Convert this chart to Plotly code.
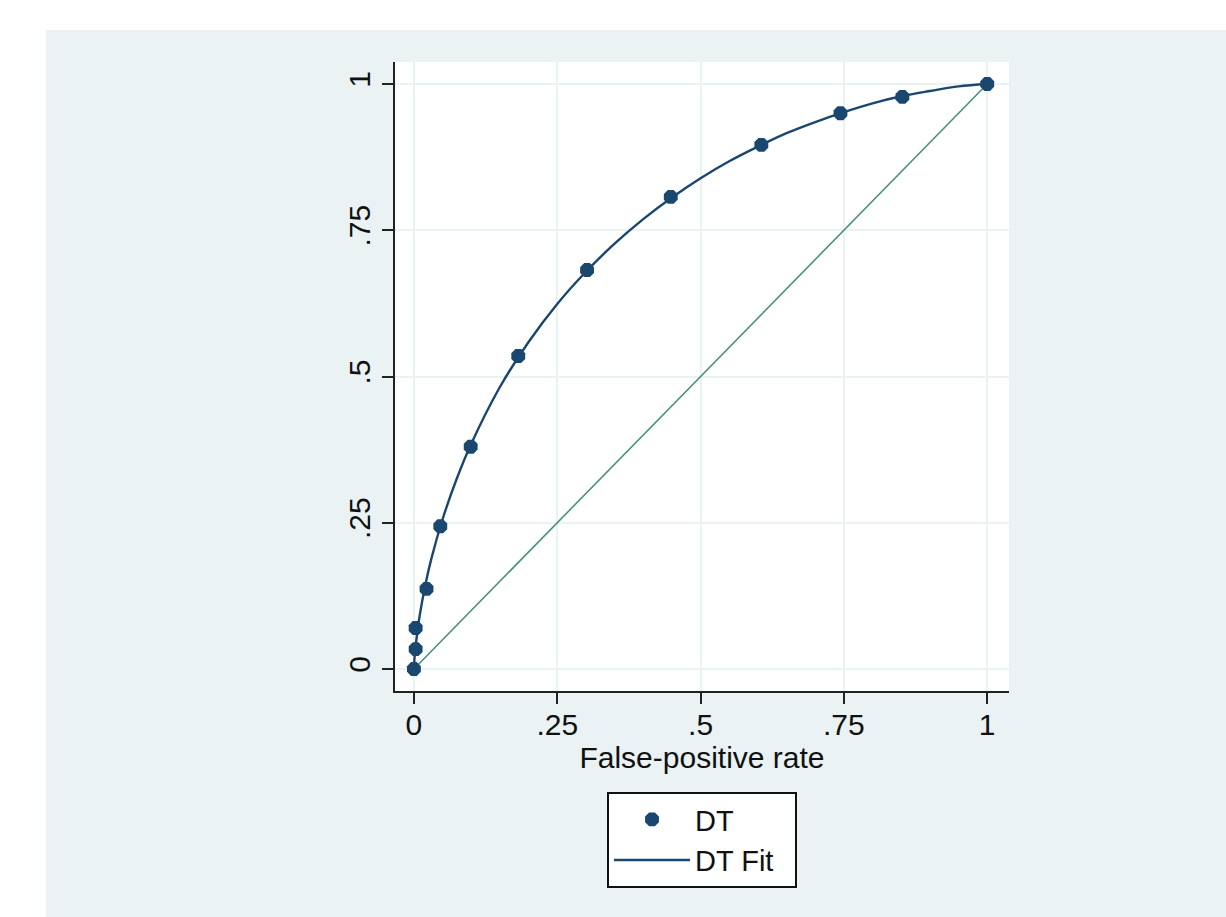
import plotly.graph_objects as go

# ---- data ----
dt_fpr = [0, 0.003, 0.003, 0.022, 0.046, 0.099, 0.182, 0.302, 0.448, 0.606, 0.744, 0.852, 1.0]
dt_tpr = [0, 0.034, 0.070, 0.137, 0.244, 0.380, 0.535, 0.682, 0.807, 0.896, 0.950, 0.978, 1.0]

fit_fpr = [0, 0.001, 0.005, 0.01, 0.02, 0.03, 0.05, 0.075, 0.1, 0.15, 0.2, 0.25, 0.3, 0.35,
           0.4, 0.45, 0.5, 0.55, 0.6, 0.65, 0.7, 0.75, 0.8, 0.85, 0.9, 0.95, 1.0]
fit_tpr = [0, 0.018, 0.056, 0.091, 0.144, 0.187, 0.256, 0.326, 0.385, 0.482, 0.559, 0.624,
           0.679, 0.727, 0.769, 0.806, 0.839, 0.868, 0.893, 0.916, 0.935, 0.952, 0.967,
           0.979, 0.988, 0.996, 1.0]

ref_x = [0, 1]
ref_y = [0, 1]

tick_vals = [0, 0.25, 0.5, 0.75, 1]
tick_text = ["0", ".25", ".5", ".75", "1"]

series_names = ["DT", "DT Fit"]

NAVY = "#1a476f"
TEAL = "#4a9080"
PANEL = "#eaf2f3"
FONT = "Liberation Sans, Arial, sans-serif"

fig = go.Figure()
fig.add_trace(go.Scatter(x=ref_x, y=ref_y, mode="lines",
                         line=dict(color=TEAL, width=1.6), showlegend=False, hoverinfo="skip"))
fig.add_trace(go.Scatter(x=fit_fpr, y=fit_tpr, mode="lines", name=series_names[1] + "\u00a0\u00a0",
                         line=dict(color=NAVY, width=2.4, shape="spline"), legendrank=2))
fig.add_trace(go.Scatter(x=dt_fpr, y=dt_tpr, mode="markers", name=series_names[0],
                         marker=dict(color=NAVY, size=15, symbol="octagon",
                                     line=dict(width=0)), legendrank=1))

L, R, T, B = 395, 217, 62, 226
W, H = 1226, 917
pw, ph = W - L - R, H - T - B

def px_x(p):
    return (p - L) / pw

def px_y(p):
    return (H - B - p) / ph

fig.update_layout(
    width=W, height=H,
    margin=dict(l=L, r=R, t=T, b=B, pad=0),
    paper_bgcolor=PANEL,
    plot_bgcolor="white",
    font=dict(family=FONT, size=30, color="#111111"),
    shapes=[
        dict(type="rect", xref="paper", yref="paper", x0=px_x(-10), x1=px_x(1240),
             y0=px_y(30), y1=px_y(-10), fillcolor="white", line=dict(width=0), layer="below"),
        dict(type="rect", xref="paper", yref="paper", x0=px_x(-10), x1=px_x(46),
             y0=px_y(930), y1=px_y(-10), fillcolor="white", line=dict(width=0), layer="below"),
    ],
    xaxis=dict(range=[-0.033, 1.038], tickvals=tick_vals, ticktext=tick_text,
               showgrid=True, gridcolor=PANEL, gridwidth=2, zeroline=False,
               showline=True, linecolor="#222222", linewidth=2,
               ticks="outside", ticklen=11, tickwidth=2, tickcolor="#222222",
               ticklabelstandoff=-5,
               tickfont=dict(size=30, color="#111111"),
               title=dict(text="False-positive rate", font=dict(size=30), standoff=0)),
    yaxis=dict(range=[-0.0376, 1.0376], tickvals=tick_vals, ticktext=tick_text,
               showgrid=True, gridcolor=PANEL, gridwidth=2, zeroline=False,
               showline=True, linecolor="#222222", linewidth=2,
               ticks="outside", ticklen=11, tickwidth=2, tickcolor="#222222",
               tickangle=-90, tickfont=dict(size=30, color="#111111")),
    legend=dict(x=px_x(607), y=px_y(792), xanchor="left", yanchor="top",
                bgcolor="white", bordercolor="#111111", borderwidth=2,
                font=dict(size=29), itemwidth=76, tracegroupgap=0),
    showlegend=True,
)

fig.write_html("out.html")
